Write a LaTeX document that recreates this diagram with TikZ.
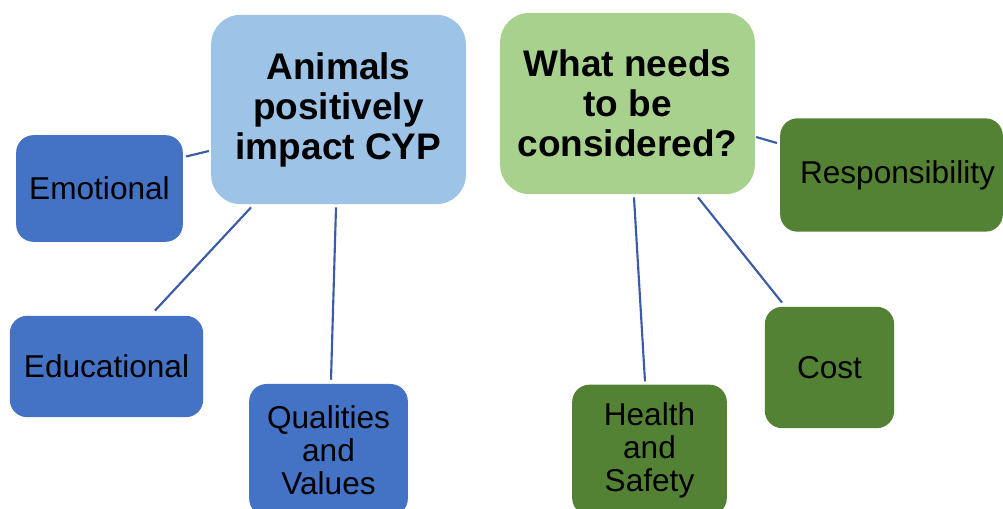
\documentclass[tikz,border=0pt]{standalone}
\usepackage{fontspec}
\setmainfont{Liberation Sans}
\usetikzlibrary{positioning}
\definecolor{headblue}{HTML}{9DC3E6}
\definecolor{headgreen}{HTML}{A9D18E}
\definecolor{leafblue}{HTML}{4472C4}
\definecolor{leafgreen}{HTML}{548235}
\definecolor{linkblue}{HTML}{3A5CA6}
\tikzset{
    head/.style={rectangle, rounded corners=22pt, align=center, font=\bfseries\fontsize{27.75}{30}\selectfont},
    leaf/.style={rectangle, rounded corners=13pt, align=center, font=\fontsize{23.7}{24.75}\selectfont},
    link/.style={draw=linkblue, line width=1.6pt}
}
\begin{document}
\begin{tikzpicture}[x=0.75pt, y=-0.75pt]

    \useasboundingbox (0,0) rectangle (1003,509);

    % Main topics
    \node[head, fill=headblue, minimum width=191pt, minimum height=142pt] (cyp) at (338.5,109.5) {Animals\\positively\\impact CYP};
    \node[head, fill=headgreen, minimum width=191pt, minimum height=136pt] (need) at (627.5,103.5) {What needs\\to be\\considered?};

    % Blue side
    \node[leaf, fill=leafblue, minimum width=125pt, minimum height=80pt] (emo) at (99.5,188.5) {Emotional};
    \node[leaf, fill=leafblue, minimum width=145pt, minimum height=76pt] (edu) at (106.5,366.5) {Educational};
    \node[leaf, fill=leafblue, minimum width=119pt, minimum height=99pt] (qual) at (328.5,450) {Qualities\\and\\Values};

    % Green side
    \node[leaf, fill=leafgreen, minimum width=167pt, minimum height=85pt] (resp) at (891.5,175) {\hspace*{9pt}Responsibility};
    \node[leaf, fill=leafgreen, minimum width=97pt, minimum height=91pt] (cost) at (829.5,367.5) {Cost};
    \node[leaf, fill=leafgreen, minimum width=116pt, minimum height=98pt] (health) at (649.5,450) {Health\\and\\Safety};

    % Links to CYP
    \draw[link] ([shift={(3,-32)}]emo.east) -- ([shift={(-2,41.5)}]cyp.west);
    \draw[link] ([shift={(48.5,-5)}]edu.north) -- ([shift={(-87.5,3)}]cyp.south);
    \draw[link] ([shift={(2.5,-4)}]qual.north) -- ([shift={(-2.5,3)}]cyp.south);

    % Links to considerations
    \draw[link] ([shift={(1,33.5)}]need.east) -- ([shift={(-3,-32)}]resp.west);
    \draw[link] ([shift={(70.5,3)}]need.south) -- ([shift={(-47.5,-4)}]cost.north);
    \draw[link] ([shift={(6.5,3)}]need.south) -- ([shift={(-4.5,-3)}]health.north);

\end{tikzpicture}
\end{document}
